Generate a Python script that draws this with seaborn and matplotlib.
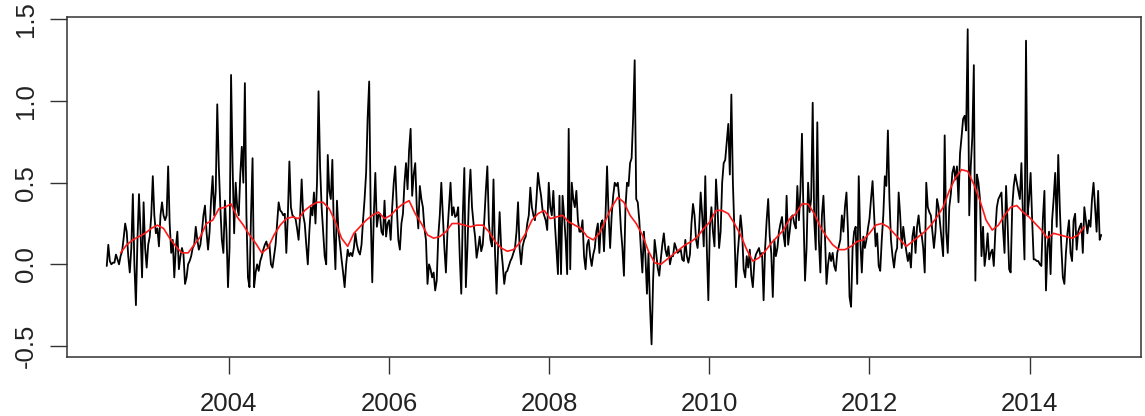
import numpy as np
import pandas as pd
import matplotlib
matplotlib.use("Agg")
import matplotlib.pyplot as plt
import matplotlib.dates as mdates
import seaborn as sns

# Weekly series in six stretches (mid 2002 -> end 2014)
seg_2002 = [
    -0.01, 0.12, 0.02, 0.00, 0.01, 0.01, 0.06, 0.03, 0.00, 0.05,
    0.08, 0.16, 0.25, 0.20, 0.05, -0.05, 0.10, 0.43, 0.00, -0.25,
    0.15, 0.43, 0.20, -0.08, 0.38, 0.10, -0.02, 0.12, 0.17, 0.30,
    0.54, 0.30, 0.19, 0.22, 0.11, 0.30, 0.38, 0.30, 0.27, 0.30,
    0.60, 0.25, 0.07, 0.15, -0.08, 0.10, 0.20, -0.03, 0.05, 0.10,
    0.06, -0.12, -0.08, 0.00, 0.02, 0.05, 0.10, 0.12, 0.23, 0.15,
    0.09, 0.12, 0.20, 0.30, 0.36, 0.20, 0.09, 0.20, 0.40, 0.54,
    0.30, 0.45, 0.98, 0.60, 0.35, 0.15, 0.07, 0.39, 0.20, -0.14,
    0.10, 1.16, 0.60, 0.19, 0.50, 0.35, 0.30, 0.55, 0.72, 0.50,
    1.11, 0.30, -0.08, -0.14, 0.30, 0.65, -0.14, -0.05, 0.00, -0.04,
    0.02, 0.05, 0.09, 0.12, 0.14, 0.10, 0.12,
]
seg_2004 = [
    0.00, -0.02, 0.05, 0.12, 0.25, 0.38, 0.33, 0.32, 0.30, 0.31,
    0.07, 0.30, 0.63, 0.35, 0.30, 0.29, 0.28, 0.22, 0.15, 0.30,
    0.52, 0.30, 0.25, 0.12, 0.00, 0.20, 0.35, 0.30, 0.44, 0.25,
    0.50, 1.06, 0.60, 0.35, 0.20, 0.05, 0.00, 0.67, 0.45, 0.40,
    0.64, 0.20, -0.03, 0.39, 0.20, 0.12, 0.03, -0.05, -0.14, 0.00,
    0.09, 0.05, 0.07, 0.05, 0.10, 0.19, 0.12, 0.08, 0.06, 0.12,
    0.27, 0.40, 0.56, 0.90, 1.12, 0.30, -0.11, 0.30, 0.56, 0.23,
    0.30, 0.31, 0.20, 0.18, 0.39, 0.17, 0.25, 0.27, 0.15, 0.35,
    0.50, 0.60, 0.35, 0.15, 0.09, 0.25, 0.31, 0.50, 0.62, 0.46,
    0.70, 0.83, 0.42, 0.55, 0.62, 0.35, 0.22, 0.48, 0.40, 0.35,
    0.22, 0.15, -0.12, 0.00, -0.03, -0.08, -0.05, -0.16,
]
seg_2006 = [
    -0.10, 0.17, 0.30, 0.50, 0.30, 0.10, -0.05, 0.20, 0.35, 0.50,
    0.30, 0.35, 0.29, 0.30, 0.35, 0.05, -0.18, 0.30, 0.59, -0.14,
    0.10, 0.40, 0.58, 0.35, 0.25, 0.17, 0.04, 0.10, 0.17, 0.08,
    0.12, 0.27, 0.45, 0.60, 0.25, 0.15, 0.11, 0.52, 0.07, -0.18,
    0.10, 0.32, 0.10, 0.00, -0.12, -0.05, -0.04, -0.01, 0.02, 0.04,
    0.07, 0.10, 0.20, 0.38, 0.10, 0.00, 0.11, 0.15, 0.17, 0.25,
    0.30, 0.47, 0.35, 0.30, 0.27, 0.40, 0.56, 0.48, 0.42, 0.33,
    0.30, 0.27, 0.21, 0.50, 0.35, 0.30, 0.45, 0.25, 0.10, -0.06,
    0.42, -0.06, 0.42, 0.30, 0.15, -0.06, 0.83, -0.03, 0.50, 0.40,
    0.35, 0.45, 0.27, 0.20, 0.20, 0.27, 0.05, -0.03, 0.12, 0.15,
    0.05, -0.01, 0.06, 0.10, 0.20, 0.25, 0.07, 0.25,
]
seg_2008 = [
    0.27, 0.08, 0.30, 0.60, 0.30, 0.10, 0.30, 0.42, 0.50, 0.48,
    0.50, 0.40, 0.22, 0.10, -0.07, 0.35, 0.50, 0.48, 0.62, 0.65,
    0.90, 1.25, 0.40, 0.38, 0.27, 0.10, -0.05, 0.20, 0.05, -0.18,
    0.07, -0.26, -0.49, -0.10, 0.15, 0.07, -0.02, -0.07, 0.03, 0.12,
    0.19, 0.09, 0.05, 0.11, 0.00, 0.05, 0.05, 0.13, 0.10, 0.07,
    0.08, 0.09, 0.03, 0.02, 0.15, 0.05, 0.01, 0.06, 0.25, 0.37,
    0.30, 0.15, 0.10, 0.22, 0.44, 0.30, 0.11, 0.54, 0.10, -0.22,
    0.23, 0.35, 0.20, 0.11, 0.52, 0.35, 0.10, 0.20, 0.50, 0.62,
    0.64, 0.75, 0.86, 0.55, 1.04, 0.50, 0.20, -0.14, 0.05, 0.17,
    0.30, 0.20, -0.03, -0.08, 0.05, -0.02, 0.09, -0.07, -0.14, 0.02,
    0.06, 0.08, 0.10, 0.05, 0.07, -0.22, 0.10, 0.27,
]
seg_2010 = [
    0.40, 0.17, 0.07, -0.20, 0.15, 0.05, 0.10, 0.20, 0.25, 0.29,
    0.18, 0.11, 0.42, 0.12, 0.20, 0.29, 0.30, 0.25, 0.22, 0.48,
    0.27, 0.45, 0.80, 0.30, -0.10, 0.10, 0.50, 0.32, 0.40, 0.99,
    0.27, 0.09, 0.87, 0.15, -0.05, 0.30, 0.42, 0.17, -0.12, 0.00,
    0.07, 0.02, 0.07, -0.01, -0.04, 0.07, 0.11, 0.15, 0.30, 0.20,
    0.35, 0.44, 0.20, -0.20, -0.26, 0.10, 0.20, 0.23, -0.12, 0.54,
    0.15, -0.05, 0.17, 0.10, 0.15, 0.22, 0.28, 0.40, 0.51, 0.31,
    0.11, 0.19, -0.01, -0.04, 0.15, 0.30, 0.54, 0.48, 0.82, 0.40,
    0.15, 0.05, -0.02, 0.07, 0.10, 0.44, 0.30, 0.10, 0.23, 0.15,
    0.08, 0.02, 0.07, -0.02, 0.17, 0.23, 0.07, 0.23, 0.30, 0.20,
    0.18, 0.10, -0.05, 0.50, 0.35, 0.32, 0.30, 0.20,
]
seg_2012 = [
    0.10, 0.20, 0.40, 0.35, 0.25, 0.15, 0.05, 0.79, 0.20, 0.07,
    0.35, 0.43, 0.56, 0.60, 0.52, 0.60, 0.38, 0.68, 0.78, 0.89,
    0.91, 0.82, 1.44, 0.30, 0.60, 0.78, 1.22, -0.10, 0.55, 0.50,
    0.40, 0.05, 0.23, -0.01, 0.07, 0.19, 0.03, 0.07, 0.09, -0.01,
    0.20, 0.35, 0.40, 0.42, 0.44, 0.22, 0.07, 0.48, 0.25, -0.03,
    -0.05, 0.35, 0.48, 0.55, 0.50, 0.45, 0.40, 0.62, 0.30, 0.03,
    1.37, 0.30, 0.40, 0.56, 0.27, 0.03, 0.03, 0.02, 0.02, 0.00,
    -0.01, 0.28, 0.45, -0.16, 0.10, 0.20, -0.06, 0.27, 0.40, 0.56,
    0.23, 0.67, 0.35, 0.11, -0.08, -0.12, 0.07, 0.19, 0.27, 0.07,
    0.02, 0.27, 0.31, 0.09, 0.20, 0.23, 0.25, 0.07, 0.35, 0.27,
    0.19, 0.27, 0.23, 0.40, 0.50, 0.35, 0.20, 0.45, 0.15, 0.18,
]

# Smoothed (red) curve, read every 4 weeks starting at week 9
smooth_vals = [
    0.07, 0.12, 0.15, 0.17, 0.19, 0.22, 0.24, 0.22, 0.16, 0.11,
    0.07, 0.07, 0.12, 0.17, 0.25, 0.27, 0.34, 0.35, 0.37, 0.29,
    0.24, 0.18, 0.13, 0.07, 0.10, 0.18, 0.24, 0.28, 0.29, 0.28,
    0.33, 0.36, 0.38, 0.38, 0.34, 0.26, 0.16, 0.11, 0.19, 0.23,
    0.27, 0.30, 0.32, 0.28, 0.30, 0.34, 0.37, 0.39, 0.31, 0.25,
    0.18, 0.16, 0.17, 0.20, 0.25, 0.25, 0.24, 0.23, 0.24, 0.24,
    0.20, 0.14, 0.10, 0.08, 0.09, 0.13, 0.19, 0.27, 0.31, 0.33,
    0.28, 0.29, 0.30, 0.26, 0.24, 0.22, 0.17, 0.15, 0.19, 0.27,
    0.35, 0.41, 0.38, 0.30, 0.25, 0.18, 0.08, 0.01, 0.00, 0.03,
    0.06, 0.09, 0.12, 0.14, 0.17, 0.22, 0.26, 0.33, 0.33, 0.31,
    0.25, 0.18, 0.09, 0.02, 0.04, 0.08, 0.13, 0.17, 0.21, 0.28,
    0.31, 0.37, 0.37, 0.31, 0.23, 0.17, 0.12, 0.09, 0.09, 0.11,
    0.14, 0.15, 0.19, 0.24, 0.25, 0.23, 0.19, 0.15, 0.11, 0.14,
    0.17, 0.20, 0.24, 0.29, 0.35, 0.45, 0.53, 0.58, 0.57, 0.49,
    0.39, 0.27, 0.21, 0.24, 0.30, 0.35, 0.36, 0.32, 0.29, 0.25,
    0.21, 0.16, 0.19, 0.18, 0.17, 0.16, 0.18, 0.23,
]
smooth_start_week = 9
smooth_step = 4

year_ticks = [2004, 2006, 2008, 2010, 2012, 2014]
y_ticks = [-0.5, 0.0, 0.5, 1.0, 1.5]

values = seg_2002 + seg_2004 + seg_2006 + seg_2008 + seg_2010 + seg_2012
dates = pd.date_range("2002-06-24", periods=len(values), freq="7D")
df = pd.DataFrame({"date": dates, "value": values})

sm_weeks = smooth_start_week + smooth_step * np.arange(len(smooth_vals))
sm = pd.DataFrame({"date": dates[0] + pd.to_timedelta(sm_weeks * 7, unit="D"),
                   "value": smooth_vals})

sns.set_style("white")
plt.rcParams["font.family"] = ["Liberation Sans", "DejaVu Sans"]

fig = plt.figure(figsize=(11.45, 4.16), dpi=100)
ax = fig.add_axes([0.0585, 0.142, 0.938, 0.818])

sns.lineplot(data=df, x="date", y="value", color="black", linewidth=1.3, ax=ax)
sns.lineplot(data=sm, x="date", y="value", color="#ff1a1a", linewidth=1.2, ax=ax)

ax.margins(x=0.04, y=0.04)
ax.set_xticks(pd.to_datetime([f"{y}-01-01" for y in year_ticks]))
ax.xaxis.set_major_formatter(mdates.DateFormatter("%Y"))
ax.set_yticks(y_ticks)
ax.set_yticklabels([f"{v:.1f}" for v in y_ticks], rotation=90, va="center")
ax.set_xlabel("")
ax.set_ylabel("")

ax.tick_params(axis="both", direction="out", length=12, width=1.0,
               bottom=True, left=True,
               color="#333333", labelsize=18.5, labelcolor="#222222")
ax.tick_params(axis="x", pad=13)
ax.tick_params(axis="y", pad=9)
for s in ax.spines.values():
    s.set_color("#333333")
    s.set_linewidth(1.1)

fig.savefig("out.png", dpi=100)
